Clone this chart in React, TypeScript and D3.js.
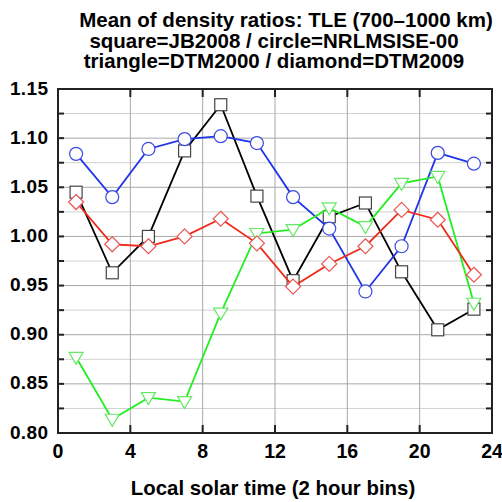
import React from "react";
import * as d3 from "d3";

const hours = [1, 3, 5, 7, 9, 11, 13, 15, 17, 19, 21, 23];
const jb2008 = [1.045, 0.963, 1.0, 1.087, 1.134, 1.041, 0.955, 1.02, 1.034, 0.964, 0.905, 0.926];
const nrlmsise = [1.084, 1.04, 1.089, 1.099, 1.102, 1.095, 1.04, 1.008, 0.944, 0.99, 1.085, 1.074];
const dtm2000 = [0.877, 0.814, 0.836, 0.832, 0.922, 1.003, 1.007, 1.029, 1.01, 1.054, 1.061, 0.932];
const dtm2009 = [1.035, 0.992, 0.99, 1.0, 1.018, 0.993, 0.949, 0.972, 0.99, 1.027, 1.017, 0.961];
const xTicks = [0, 4, 8, 12, 16, 20, 24];
const yTicks = [0.8, 0.85, 0.9, 0.95, 1.0, 1.05, 1.1, 1.15];
const yMinor = [0.825, 0.875, 0.925, 0.975, 1.025, 1.075, 1.125];
const titleLines = [
  "Mean of density ratios: TLE (700\u20131000 km)",
  "square=JB2008 / circle=NRLMSISE-00",
  "triangle=DTM2000 / diamond=DTM2009",
];
const titleCenters = [286, 274, 274];
const xTitle = "Local solar time (2 hour bins)";

const W = 502;
const H = 502;
const L = 58, R = 492, T = 89, B = 433;
const FONT = "'Liberation Sans', Arial, Helvetica, sans-serif";

type Series = { vals: number[]; line: string; mark: string; shape: string };
const series: Series[] = [
  { vals: jb2008, line: "#000000", mark: "#444444", shape: "square" },
  { vals: nrlmsise, line: "#1f35e8", mark: "#3a4ae0", shape: "circle" },
  { vals: dtm2000, line: "#22ee22", mark: "#66e866", shape: "triangle" },
  { vals: dtm2009, line: "#ee2a1a", mark: "#ea5555", shape: "diamond" },
];

function Marker({ shape, cx, cy, color }: { shape: string; cx: number; cy: number; color: string }) {
  const common = { fill: "white", stroke: color, strokeWidth: 1.2 };
  if (shape === "square") return <rect x={cx - 6} y={cy - 6} width={12} height={12} {...common} />;
  if (shape === "circle") return <circle cx={cx} cy={cy} r={6.5} {...common} />;
  if (shape === "triangle")
    return <path d={`M${cx - 7},${cy - 5} L${cx + 7},${cy - 5} L${cx},${cy + 7} Z`} {...common} />;
  return <path d={`M${cx},${cy - 7.5} L${cx + 7.5},${cy} L${cx},${cy + 7.5} L${cx - 7.5},${cy} Z`} {...common} />;
}

export default function App() {
  const x = d3.scaleLinear().domain([0, 24]).range([L, R]);
  const y = d3.scaleLinear().domain([0.8, 1.15]).range([B, T]);
  const line = d3
    .line<number>()
    .x((_, i) => x(hours[i]))
    .y((v) => y(v));

  return (
    <svg width={W} height={H} style={{ position: "absolute", left: 0, top: 0 }} fontFamily={FONT}>
      <rect width={W} height={H} fill="white" />
      {titleLines.map((t, i) => (
        <text key={i} x={titleCenters[i]} y={26.7 + i * 20.8} textAnchor="middle" fontSize={20.5} fontWeight="bold">
          {t}
        </text>
      ))}
      {/* grid */}
      {yMinor.map((v) => (
        <line key={"gm" + v} x1={L} x2={R} y1={y(v)} y2={y(v)} stroke="#d0d0d0" strokeWidth={1} />
      ))}
      {yTicks.slice(1, -1).map((v) => (
        <line key={"gy" + v} x1={L} x2={R} y1={y(v)} y2={y(v)} stroke="#a8a8a8" strokeWidth={1} />
      ))}
      {xTicks.slice(1, -1).map((v) => (
        <line key={"gx" + v} x1={x(v)} x2={x(v)} y1={T} y2={B} stroke="#a8a8a8" strokeWidth={1} />
      ))}
      {/* ticks */}
      {xTicks.slice(1, -1).map((v) => (
        <g key={"tx" + v}>
          <line x1={x(v)} x2={x(v)} y1={T} y2={T + 8} stroke="#222" strokeWidth={2} />
          <line x1={x(v)} x2={x(v)} y1={B} y2={B - 8} stroke="#222" strokeWidth={2} />
        </g>
      ))}
      {yMinor.map((v) => (
        <g key={"tm" + v}>
          <line x1={L} x2={L + 6} y1={y(v)} y2={y(v)} stroke="#222" strokeWidth={2} />
          <line x1={R} x2={R - 6} y1={y(v)} y2={y(v)} stroke="#222" strokeWidth={2} />
        </g>
      ))}
      {yTicks.slice(1, -1).map((v) => (
        <g key={"ty" + v}>
          <line x1={L} x2={L + 6} y1={y(v)} y2={y(v)} stroke="#222" strokeWidth={2} />
          <line x1={R} x2={R - 6} y1={y(v)} y2={y(v)} stroke="#222" strokeWidth={2} />
        </g>
      ))}
      {/* series */}
      {series.map((s, si) => (
        <g key={"s" + si}>
          <path d={line(s.vals) || ""} fill="none" stroke={s.line} strokeWidth={1.8} />
          {s.vals.map((v, i) => (
            <Marker key={i} shape={s.shape} cx={x(hours[i])} cy={y(v)} color={s.mark} />
          ))}
        </g>
      ))}
      <rect x={L} y={T} width={R - L} height={B - T} fill="none" stroke="#222" strokeWidth={2} />
      {/* labels */}
      {yTicks.map((v) => (
        <text key={"ly" + v} x={L - 9.5} y={y(v) + 5.5} textAnchor="end" fontSize={19} fontWeight="bold" letterSpacing={0.4}>
          {v.toFixed(2)}
        </text>
      ))}
      {xTicks.map((v) => (
        <text key={"lx" + v} x={x(v)} y={457.7} textAnchor="middle" fontSize={19.5} fontWeight="bold">
          {v}
        </text>
      ))}
      <text x={273} y={495} textAnchor="middle" fontSize={20.4} fontWeight="bold">
        {xTitle}
      </text>
    </svg>
  );
}
